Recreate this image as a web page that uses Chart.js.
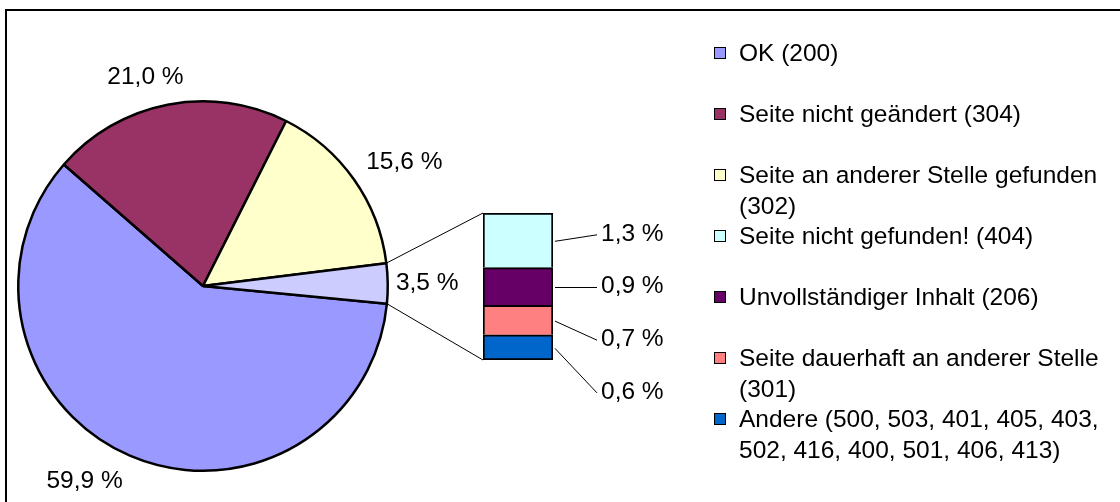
<!DOCTYPE html>
<html><head><meta charset="utf-8">
<script src="https://cdn.jsdelivr.net/npm/chart.js@4.4.0/dist/chart.umd.min.js"></script>
<style>
html,body{margin:0;padding:0;width:1120px;height:502px;overflow:hidden;background:#fff;}
#frame{position:absolute;left:5px;top:9px;width:1200px;height:600px;border:2px solid #000;box-sizing:border-box;}
canvas{position:absolute;left:0;top:0;}
#legend{position:absolute;left:0;top:0;width:1120px;height:502px;font-family:'Liberation Sans',Arial,sans-serif;font-size:24.5px;color:#000;}
.item{position:absolute;left:739px;width:372px;line-height:31px;white-space:normal;}
.mk{position:absolute;left:714px;width:10px;height:10px;border:1px solid #000;}
</style></head><body>
<div id="frame"></div>
<canvas id="pie" width="1120" height="502"></canvas>
<canvas id="bar" width="1120" height="502"></canvas>
<div id="legend"></div>
<script>
// ---- data ----
const pieLabels = ['OK (200)', 'Seite nicht geändert (304)', 'Seite an anderer Stelle gefunden (302)', 'Andere'];
const pieValues = [59.9, 21.0, 15.6, 3.5];
const pieColors = ['#9999FF', '#993366', '#FFFFCC', '#CCCCFF'];
const barLabels = ['Seite nicht gefunden! (404)', 'Unvollständiger Inhalt (206)', 'Seite dauerhaft an anderer Stelle (301)', 'Andere (500, 503, 401, 405, 403, 502, 416, 400, 501, 406, 413)'];
const barValues = [1.3, 0.9, 0.7, 0.6];
const barColors = ['#CCFFFF', '#660066', '#FF8080', '#0066CC'];

const FONT = '24.5px "Liberation Sans", Arial, sans-serif';
const fmt = v => v.toFixed(1).replace('.', ',') + ' %';
const clamp = v => Math.max(-1, Math.min(1, v));

// ---- pie ----
const pieLabelPlugin = {
  id: 'pieLabels',
  afterDatasetsDraw(chart) {
    const ctx = chart.ctx;
    const meta = chart.getDatasetMeta(0);
    ctx.save();
    ctx.font = FONT;
    ctx.fillStyle = '#000';
    ctx.textAlign = 'center';
    ctx.textBaseline = 'middle';
    meta.data.forEach((arc, i) => {
      const p = arc.getProps(['x', 'y', 'startAngle', 'endAngle', 'outerRadius'], true);
      const mid = (p.startAngle + p.endAngle) / 2;
      const vx = Math.cos(mid), vy = Math.sin(mid);
      const txt = fmt(pieValues[i]);
      const w = ctx.measureText(txt).width, h = 17;
      const R = p.outerRadius + 8 + 12 * Math.abs(vy);
      const cx = p.x + vx * R + (w / 2) * clamp(2.5 * vx);
      const cy = p.y + vy * R + (h / 2) * clamp(2.5 * vy);
      ctx.fillText(txt, cx, cy);
    });
    ctx.restore();
  }
};

const pieChart = new Chart(document.getElementById('pie'), {
  type: 'pie',
  data: {
    labels: pieLabels,
    datasets: [{ data: pieValues, backgroundColor: pieColors, borderColor: '#000', borderWidth: 2.5 }]
  },
  options: {
    responsive: false, animation: false, events: [],
    rotation: 95.5,
    layout: { padding: { left: 17, top: 100, right: 731, bottom: 30 } },
    plugins: { legend: { display: false }, tooltip: { enabled: false } }
  },
  plugins: [pieLabelPlugin]
});

// ---- bar (breakdown of "Andere") ----
const barTotal = barValues.reduce((a, b) => a + b, 0);
const barPlugin = {
  id: 'barExtras',
  afterDraw(chart) {
    const ctx = chart.ctx;
    const segs = barValues.map((v, i) => {
      const dsIndex = barValues.length - 1 - i;
      const el = chart.getDatasetMeta(dsIndex).data[0];
      const p = el.getProps(['x', 'y', 'base', 'width'], true);
      return { top: Math.min(p.y, p.base), bottom: Math.max(p.y, p.base), left: p.x - p.width / 2, right: p.x + p.width / 2 };
    });
    const barTop = segs[0].top, barBottom = segs[segs.length - 1].bottom;
    const left = segs[0].left, right = segs[0].right;
    // connector lines from the pie's "Andere" slice
    const arc = pieChart.getDatasetMeta(0).data[pieValues.length - 1];
    const a = arc.getProps(['x', 'y', 'startAngle', 'endAngle', 'outerRadius'], true);
    const pS = [a.x + Math.cos(a.startAngle) * a.outerRadius, a.y + Math.sin(a.startAngle) * a.outerRadius];
    const pE = [a.x + Math.cos(a.endAngle) * a.outerRadius, a.y + Math.sin(a.endAngle) * a.outerRadius];
    const upper = pS[1] < pE[1] ? pS : pE, lower = pS[1] < pE[1] ? pE : pS;
    ctx.save();
    ctx.strokeStyle = '#000';
    ctx.lineWidth = 1;
    ctx.beginPath();
    ctx.moveTo(upper[0], upper[1]); ctx.lineTo(left, barTop);
    ctx.moveTo(lower[0], lower[1]); ctx.lineTo(left, barBottom);
    ctx.stroke();
    // labels with leader lines
    ctx.font = FONT;
    ctx.fillStyle = '#000';
    ctx.textAlign = 'left';
    ctx.textBaseline = 'middle';
    let prev = -1e9;
    segs.forEach((s, i) => {
      const mid = (s.top + s.bottom) / 2;
      const ly = Math.max(mid - 6.5, prev + 52.7);
      prev = ly;
      ctx.beginPath();
      ctx.moveTo(right + 2, mid + 1);
      ctx.lineTo(right + 44, ly + 1);
      ctx.stroke();
      ctx.fillText(fmt(barValues[i]), right + 48, ly);
    });
    ctx.restore();
  }
};

const barChart = new Chart(document.getElementById('bar'), {
  type: 'bar',
  data: {
    labels: [''],
    datasets: barValues.map((v, i) => ({
      label: barLabels[i], data: [v], backgroundColor: barColors[i],
      borderColor: '#000', borderWidth: 2,
      borderSkipped: i === barValues.length - 1 ? false : 'bottom',
      barPercentage: 1, categoryPercentage: 1
    })).reverse()
  },
  options: {
    responsive: false, animation: false, events: [],
    layout: { padding: { left: 483, right: 567, top: 213, bottom: 142 } },
    scales: {
      x: { display: false, stacked: true },
      y: { display: false, stacked: true, min: 0, max: barTotal }
    },
    plugins: { legend: { display: false }, tooltip: { enabled: false } }
  },
  plugins: [barPlugin]
});

// ---- legend ----
const legendLabels = pieLabels.slice(0, 3).concat(barLabels);
const legendColors = pieColors.slice(0, 3).concat(barColors);
const lg = document.getElementById('legend');
legendLabels.forEach((t, i) => {
  const cy = 52.5 + i * 61;
  const it = document.createElement('div');
  it.className = 'item';
  it.style.top = (cy - 15.5) + 'px';
  it.textContent = t;
  lg.appendChild(it);
  const mk = document.createElement('div');
  mk.className = 'mk';
  mk.style.top = (cy - 6) + 'px';
  mk.style.background = legendColors[i];
  lg.appendChild(mk);
});
</script>
</body></html>
